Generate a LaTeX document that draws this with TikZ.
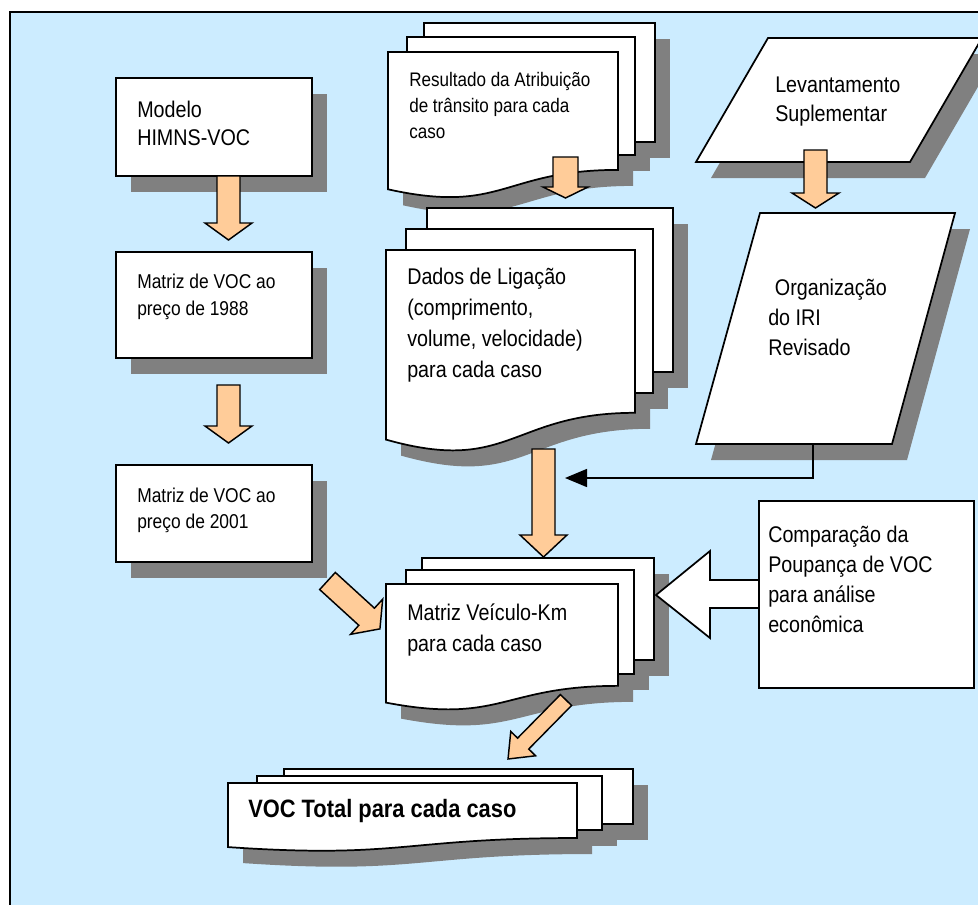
\documentclass[tikz,border=0pt]{standalone}
\usepackage{fontspec}
\setmainfont{Liberation Sans}[FakeStretch=0.87]
\usetikzlibrary{arrows.meta}
\definecolor{bgblue}{HTML}{CCECFF}
\definecolor{shadowc}{HTML}{808080}
\definecolor{peach}{HTML}{FFCC99}
\newcommand\docpath[5]{% style, L, T, R, H
  \path[#1] (#2,#3) -- (#4,#3) -- (#4,{#3+0.802*#5})
    .. controls ({(#2+#4)/2},{#3+0.802*#5}) and ({(#2+#4)/2},{#3+1.107*#5}) .. (#2,{#3+0.934*#5}) -- cycle;}
\newcommand\blockarrow[7]{% x, y (tail centre), angle, length, half shaft, half head, head length
  \begin{scope}[shift={(#1,#2)},rotate=#3]
    \draw[barrow] (0,-#5) -- ({#4-#7},-#5) -- ({#4-#7},-#6) -- (#4,0) -- ({#4-#7},#6) -- ({#4-#7},#5) -- (0,#5) -- cycle;
  \end{scope}}
\tikzset{
  boxline/.style={draw=black, line width=1.3pt, fill=white, line join=miter},
  shadowfill/.style={fill=shadowc},
  shadowed/.style={preaction={fill=shadowc, draw=none, transform canvas={shift={(15,16)}}}},
  barrow/.style={draw=black, line width=1.1pt, fill=peach, line join=miter},
  txt/.style={inner sep=0pt, align=left, anchor=north west, text=black},
}
\begin{document}
\begin{tikzpicture}[x=0.75pt,y=-0.75pt]
\useasboundingbox (0,0) rectangle (978,904);
\clip (0,0) rectangle (978,904);
\fill[white] (0,0) rectangle (978,904);
\draw[line width=1.2pt, fill=bgblue] (10,12) rectangle (1000,930);

% ---- left column boxes
\draw[boxline, shadowed] (116,78) rectangle (312,176);
\draw[boxline, shadowed] (116,252) rectangle (312,358);
\draw[boxline, shadowed] (116,465) rectangle (312,562);

% ---- parallelograms
\draw[boxline, shadowed] (768,38) -- (982,38) -- (910,162) -- (696,162) -- cycle;
\draw[boxline, shadowed] (760,213) -- (955,213) -- (892,444) -- (696,444) -- cycle;

% ---- Resultado stack
\begin{scope}[shift={(15,16)}]
  \fill[shadowc] (424,23) rectangle (655,142);
  \fill[shadowc] (407,37) rectangle (635,155);
  \docpath{shadowfill}{388}{52}{618}{147}
\end{scope}
\draw[boxline] (424,23) rectangle (655,142);
\draw[boxline] (407,37) rectangle (635,155);
\docpath{boxline}{388}{52}{618}{147}

% ---- Dados stack
\begin{scope}[shift={(15,16)}]
  \fill[shadowc] (427,208) rectangle (673,372);
  \fill[shadowc] (406,229) rectangle (653,393);
  \docpath{shadowfill}{386}{250}{635}{203}
\end{scope}
\draw[boxline] (427,208) rectangle (673,372);
\draw[boxline] (406,229) rectangle (653,393);
\docpath{boxline}{386}{250}{635}{203}

% ---- Matriz Veiculo-Km stack
\begin{scope}[shift={(15,16)}]
  \fill[shadowc] (422,558) rectangle (654,660);
  \fill[shadowc] (406,570) rectangle (634,674);
  \docpath{shadowfill}{386}{584}{618}{127}
\end{scope}
\draw[boxline] (422,558) rectangle (654,660);
\draw[boxline] (406,570) rectangle (634,674);
\docpath{boxline}{386}{584}{618}{127}

% ---- VOC Total stack
\begin{scope}[shift={(15,16)}]
  \fill[shadowc] (284,769) rectangle (633,824);
  \fill[shadowc] (257,776) rectangle (602,830);
  \docpath{shadowfill}{228}{783}{577}{68.6}
\end{scope}
\draw[boxline] (284,769) rectangle (633,824);
\draw[boxline] (257,776) rectangle (602,830);
\docpath{boxline}{228}{783}{577}{68.6}

% ---- Comparacao box and hollow arrow
\draw[boxline] (656,595) -- (710,551) -- (710,580) -- (759,580) -- (759,608) -- (710,608) -- (710,638) -- cycle;
\draw[boxline] (759,501) rectangle (974,688);

% ---- block arrows
\blockarrow{228.5}{176}{-90}{64}{11.5}{23.5}{17}
\blockarrow{228.5}{385}{-90}{58}{11.5}{23.5}{17}
\blockarrow{327.5}{581}{-42.4}{71}{11.6}{23.8}{18}
\blockarrow{565.5}{157}{-90}{41}{12.5}{22.5}{11}
\blockarrow{815.5}{150}{-90}{58}{11.5}{23.5}{15}
\blockarrow{543.5}{449}{-90}{108}{11.5}{23.5}{22}
\blockarrow{566}{700}{-134.5}{82.7}{7.8}{17.4}{21.6}

% ---- thin connector
\coordinate (orgbot) at (813,444);
\coordinate (join) at (565,478);
\draw[line width=1.1pt, -{Triangle[length=16.5pt, width=13.5pt]}] (orgbot) |- (join);

% ---- texts
\node[txt, font=\fontsize{17}{20.8}\selectfont] (tmod) at (137,100.7) {Modelo\\HIMNS-VOC};
\node[txt, font=\fontsize{15}{20.25}\selectfont] (t88) at (137,274.1) {Matriz de VOC ao\\preço de 1988};
\node[txt, font=\fontsize{15}{19.5}\selectfont] (t01) at (137,487.5) {Matriz de VOC ao\\preço de 2001};
\node[txt, font=\fontsize{14.7}{19.7}\selectfont] (tres) at (409,71.7) {Resultado da Atribuição\\de trânsito para cada\\caso};
\node[txt, font=\fontsize{17}{23.25}\selectfont] (tdad) at (407,268.2) {Dados de Ligação\\(comprimento,\\volume, velocidade)\\para cada caso};
\node[txt, font=\fontsize{17}{23.25}\selectfont] (tvk) at (407,603.1) {Matriz Veículo-Km\\para cada caso};
\node[txt, font=\bfseries\fontsize{18.85}{22}\selectfont] (tvoc) at (248,799) {VOC Total para cada caso};
\node[txt, font=\fontsize{17}{22.5}\selectfont] (tcmp) at (768,525.9) {Comparação da\\Poupança de VOC\\para análise\\econômica};
\node[txt, font=\fontsize{17}{21.2}\selectfont] (tlev) at (775,76.9) {Levantamento\\Suplementar};
\node[txt, font=\fontsize{17}{22.7}\selectfont] (torg) at (768,278.6) {\hspace*{5pt}Organização\\do IRI\\Revisado};
\end{tikzpicture}
\end{document}
